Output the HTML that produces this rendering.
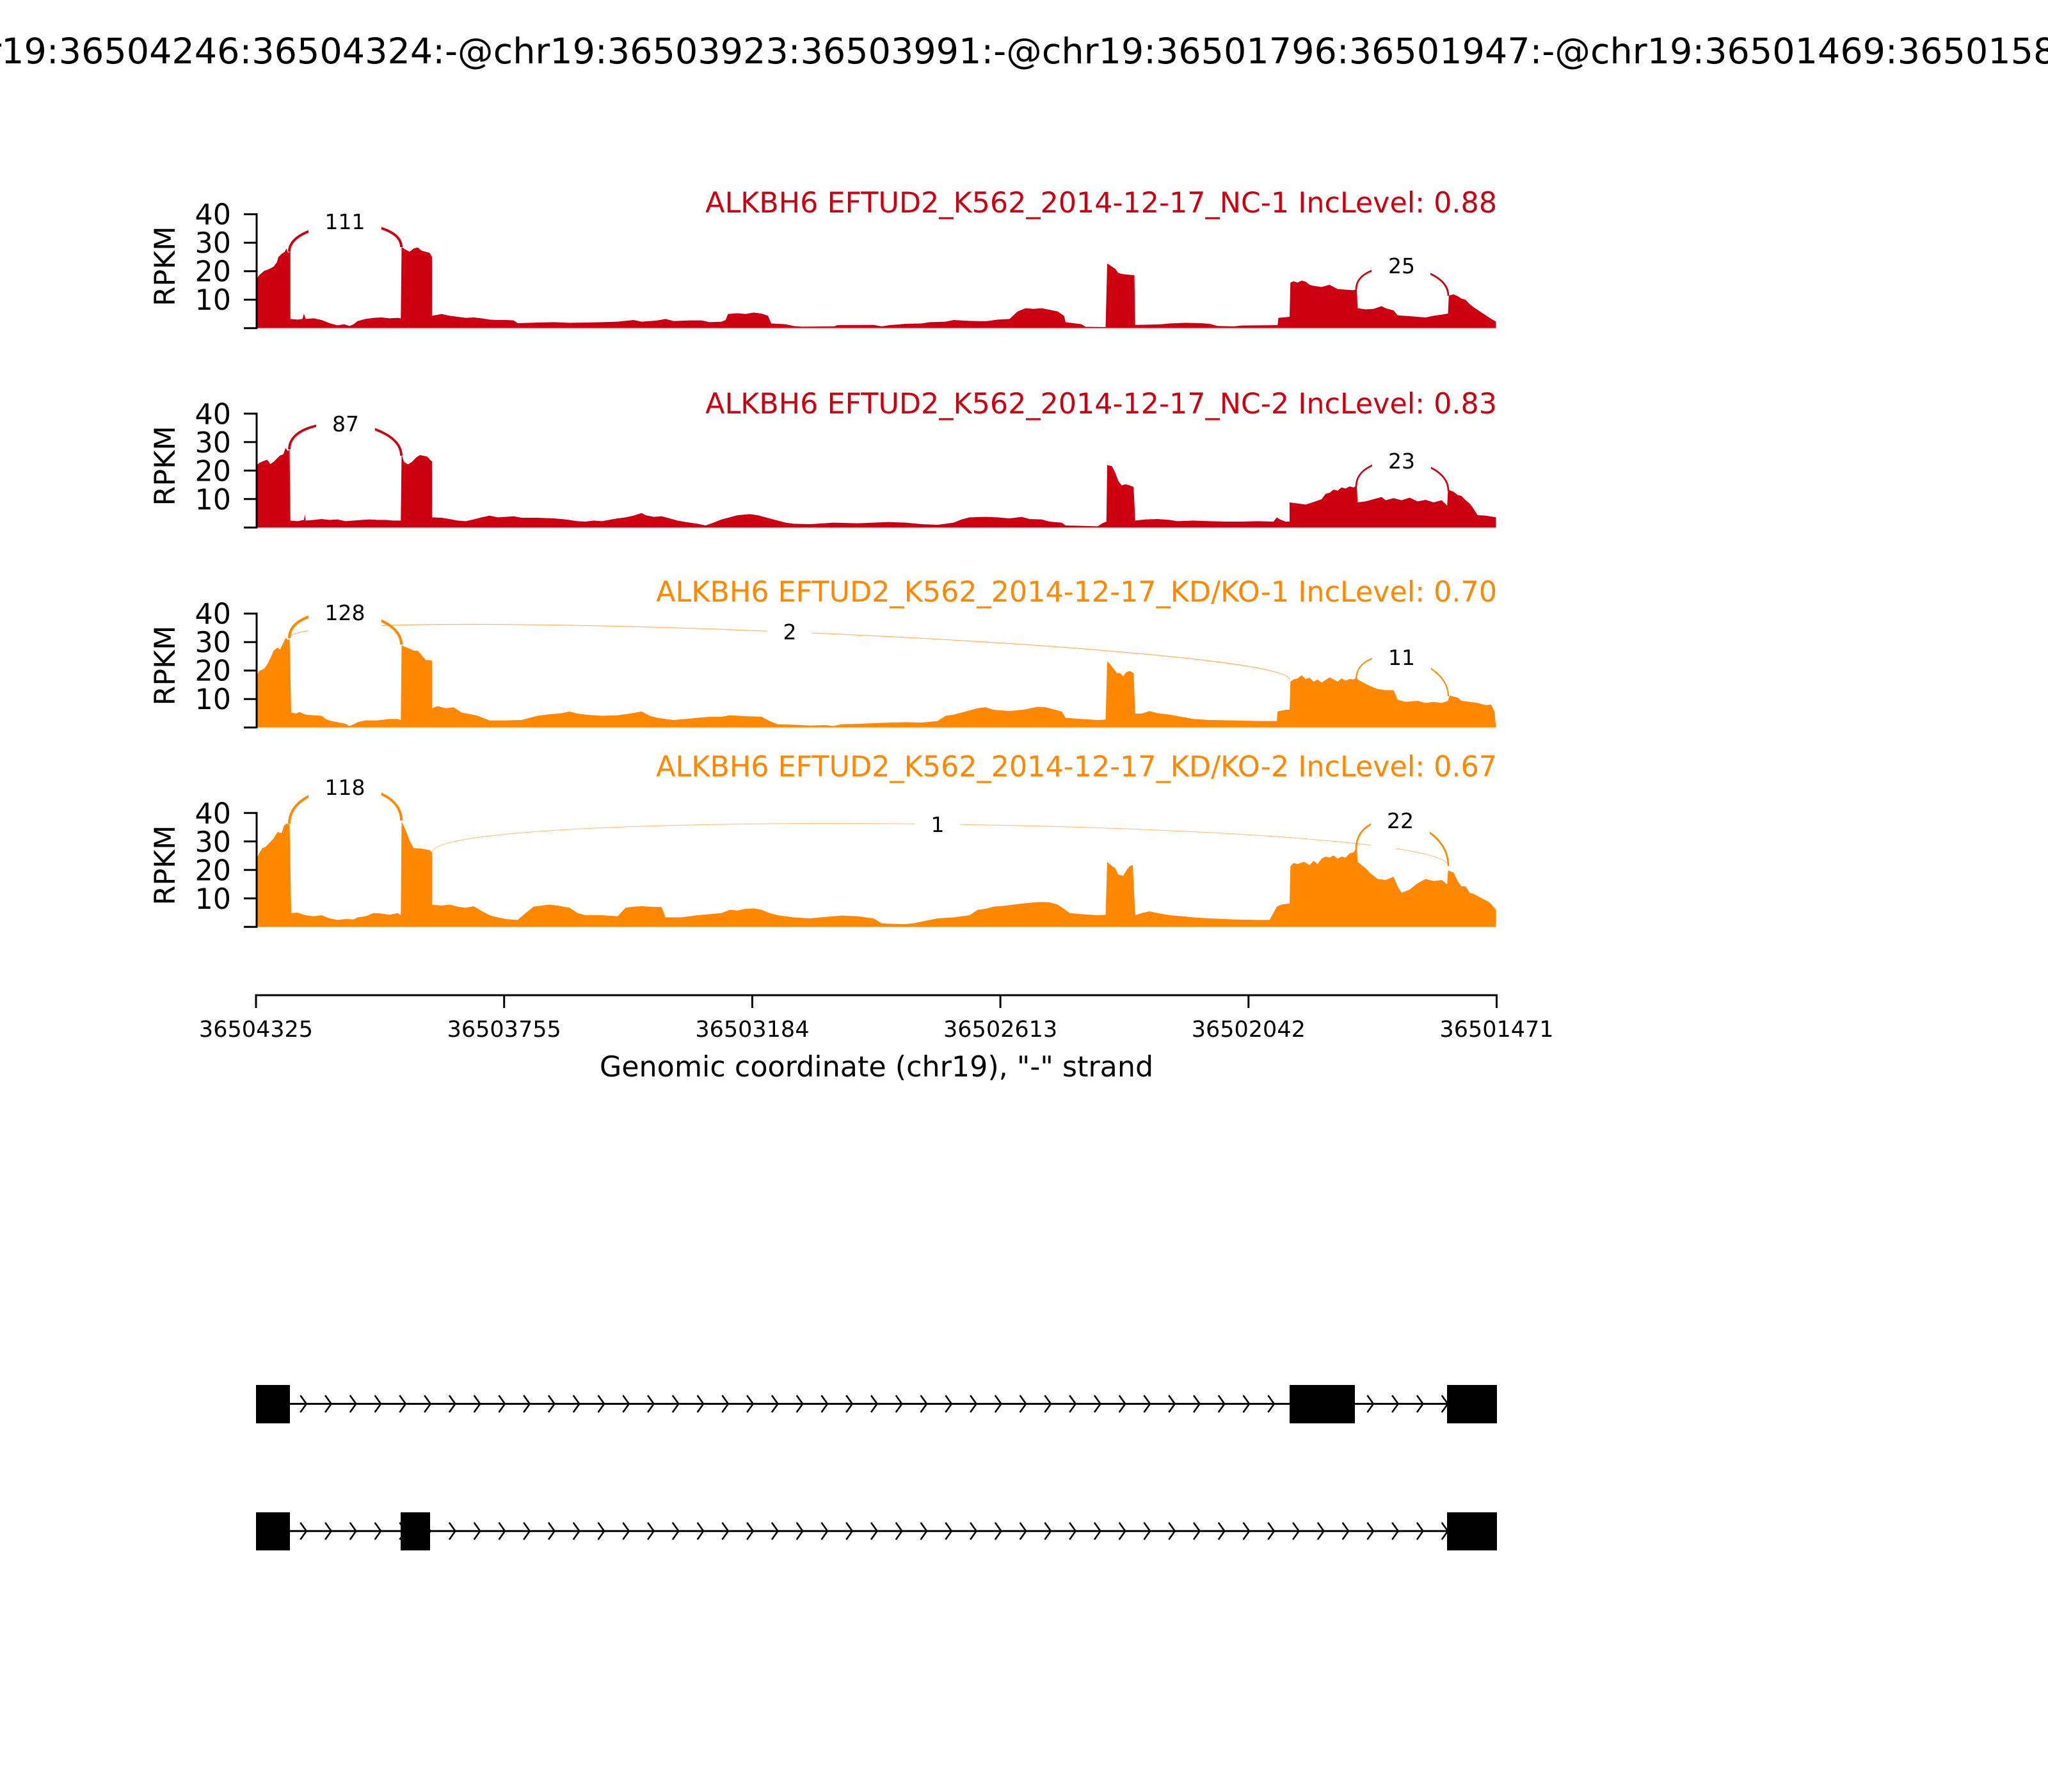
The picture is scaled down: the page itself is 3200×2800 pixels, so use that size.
<!DOCTYPE html>
<html>
<head>
<meta charset="utf-8">
<style>
html,body{margin:0;padding:0;background:#fff;}
body{width:3200px;height:2800px;overflow:hidden;}
svg{display:block;}
text{font-family:"DejaVu Sans","Liberation Sans",sans-serif;}
</style>
</head>
<body>
<svg width="3200" height="2800" viewBox="0 0 3200 2800" xmlns="http://www.w3.org/2000/svg">
<rect x="0" y="0" width="3200" height="2800" fill="#fff"/>

<!-- Main title -->
<text x="1600" y="99" font-size="55.6" text-anchor="middle" fill="#000">chr19:36504246:36504324:-@chr19:36503923:36503991:-@chr19:36501796:36501947:-@chr19:36501469:36501587:-</text>

<!-- ========== Panel 1 ========== -->
<path fill="#CC0011" transform="translate(390,280) scale(1.25,0.333333)" d="M8,698 L8,470 L12,450 L18,430 L22,425 L26,418 L30,410 L34,390 L36,365 L40,350 L44,340 L46,325 L48,345 L50,340 L51,340
L51,655 L60,658 L66,655 L68,630 L70,655 L80,652 L90,660 L100,675 L110,685 L118,680 L125,688 L130,680 L135,665 L145,655 L155,650 L165,648 L175,652 L185,650 L189,652
L190,318 L195,330 L200,340 L205,325 L210,320 L215,335 L220,340 L225,345 L228,365 L228,640
L240,632 L250,640 L260,645 L270,650 L280,648 L290,652 L300,658 L310,660 L320,660 L330,662 L335,675 L360,672 L380,670 L400,673 L420,672 L440,670 L460,668 L480,660 L490,668 L510,662 L520,655 L530,665 L550,662 L565,662 L575,670 L590,668 L595,660
L598,632 L610,628 L620,632 L630,625 L640,630 L648,640 L652,676
L670,680 L680,688 L690,691 L730,690 L735,684 L780,683 L790,690 L800,684 L820,678 L840,676 L850,670 L870,668 L880,660 L900,664 L920,666 L935,658 L950,655 L960,620 L970,605 L980,608 L990,605 L1000,612 L1010,620 L1018,640 L1020,670 L1040,680 L1045,692 L1070,693
L1072,395 L1076,405 L1082,420 L1086,440 L1092,445 L1100,448 L1106,450 L1107,683
L1120,682 L1140,680 L1150,676 L1170,673 L1190,675 L1200,678 L1210,688 L1230,690 L1240,686 L1285,684
L1286,650 L1300,645
L1301,485 L1305,478 L1310,485 L1315,475 L1320,480 L1325,495 L1330,500 L1340,505 L1350,495 L1360,515 L1370,518 L1380,520 L1384,515 L1385,605
L1395,610 L1405,608 L1415,595 L1420,605 L1430,615 L1435,638 L1450,642 L1470,648 L1480,640 L1490,635 L1498,630
L1499,545 L1505,540 L1510,548 L1515,560 L1520,565 L1525,585 L1530,600 L1540,625 L1550,650 L1558,668 L1558,698 Z"/>
<path fill="none" stroke="#CC0011" stroke-width="4" d="M452,393 C452,341 627,334 627,386"/>
<path fill="none" stroke="#CC0011" stroke-width="2.8" d="M2119,452 C2119,399 2263,409 2263,462"/>
<rect x="482" y="303" width="114" height="87" fill="#fff"/>
<text x="539" y="358" font-size="33" text-anchor="middle" fill="#000">111</text>
<rect x="2143" y="372" width="92" height="87" fill="#fff"/>
<text x="2190" y="427" font-size="33" text-anchor="middle" fill="#000">25</text>
<text x="2339" y="332" font-size="44.4" text-anchor="end" fill="#CC0011">ALKBH6 EFTUD2_K562_2014-12-17_NC-1 IncLevel: 0.88</text>
<g stroke="#000" stroke-width="3">
<line x1="401" y1="514" x2="401" y2="333.2"/>
<line x1="381" y1="512.7" x2="401" y2="512.7"/>
<line x1="381" y1="468.2" x2="401" y2="468.2"/>
<line x1="381" y1="423.7" x2="401" y2="423.7"/>
<line x1="381" y1="379.2" x2="401" y2="379.2"/>
<line x1="381" y1="334.7" x2="401" y2="334.7"/>
</g>
<g font-size="44.4" text-anchor="end" fill="#000">
<text x="361" y="484.2">10</text>
<text x="361" y="439.7">20</text>
<text x="361" y="395.2">30</text>
<text x="361" y="350.7">40</text>
</g>
<text transform="translate(273,416) rotate(-90)" font-size="44.4" text-anchor="middle" fill="#000">RPKM</text>

<!-- ========== Panel 2 ========== -->
<path fill="#CC0011" transform="translate(390,595) scale(1.25,0.333333)" d="M8,688 L8,400 L12,385 L18,375 L22,370 L26,390 L30,380 L34,365 L38,350 L42,345 L45,315 L48,330 L50,320
L51,655 L60,658 L68,652 L69,625 L70,655 L80,652 L90,648 L100,652 L110,650 L120,658 L130,655 L140,652 L150,650 L160,652 L170,652 L180,655 L189,655
L190,345 L193,380 L198,392 L203,380 L208,360 L213,348 L218,352 L222,355 L226,372 L228,378 L228,640
L240,642 L250,648 L260,655 L270,658 L280,650 L290,640 L300,632 L310,640 L320,638 L330,635 L340,642 L360,642 L380,645 L395,650 L410,658 L420,660 L430,655 L440,658 L460,645 L470,640 L480,632 L490,620 L495,630 L505,638 L515,635 L525,645 L535,655 L545,662 L560,670 L570,678 L580,665 L590,650 L600,640 L610,630 L625,625 L635,630 L645,640 L660,655 L670,665 L680,670 L700,672 L730,665 L760,668 L780,665 L800,662 L820,665 L840,672 L860,675 L870,670 L880,665 L890,650 L900,640 L920,638 L935,640 L950,645 L965,638 L975,648 L990,650 L1000,660 L1015,665 L1020,678 L1040,680 L1060,682 L1066,668 L1071,660
L1072,395 L1078,400 L1082,430 L1086,470 L1090,490 L1095,485 L1100,490 L1105,498 L1107,655
L1120,650 L1135,648 L1150,652 L1160,658 L1180,655 L1200,658 L1220,660 L1240,660 L1260,658 L1280,660 L1284,640 L1288,650 L1295,660 L1300,660
L1300,570 L1310,575 L1320,580 L1330,568 L1340,555 L1345,530 L1350,525 L1355,510 L1360,515 L1365,500 L1370,505 L1375,495 L1380,500 L1384,490 L1385,570
L1395,565 L1405,555 L1415,545 L1420,560 L1430,550 L1440,560 L1450,548 L1460,565 L1470,558 L1480,570 L1490,560 L1497,585
L1498,510 L1505,520 L1510,535 L1515,540 L1520,560 L1525,575 L1530,600 L1535,630 L1545,632 L1558,640 L1558,688 Z"/>
<path fill="none" stroke="#CC0011" stroke-width="3.8" d="M452,702 C452,642 627,652 627,712"/>
<path fill="none" stroke="#CC0011" stroke-width="2.7" d="M2119,760 C2119,702 2263,709 2263,767"/>
<rect x="494" y="619" width="92" height="87" fill="#fff"/>
<text x="540" y="674" font-size="33" text-anchor="middle" fill="#000">87</text>
<rect x="2144" y="677" width="92" height="87" fill="#fff"/>
<text x="2190" y="732" font-size="33" text-anchor="middle" fill="#000">23</text>
<text x="2339" y="646" font-size="44.4" text-anchor="end" fill="#CC0011">ALKBH6 EFTUD2_K562_2014-12-17_NC-2 IncLevel: 0.83</text>
<g stroke="#000" stroke-width="3">
<line x1="401" y1="825.6" x2="401" y2="644.8"/>
<line x1="381" y1="824.3" x2="401" y2="824.3"/>
<line x1="381" y1="779.8" x2="401" y2="779.8"/>
<line x1="381" y1="735.3" x2="401" y2="735.3"/>
<line x1="381" y1="690.8" x2="401" y2="690.8"/>
<line x1="381" y1="646.3" x2="401" y2="646.3"/>
</g>
<g font-size="44.4" text-anchor="end" fill="#000">
<text x="361" y="795.8">10</text>
<text x="361" y="751.3">20</text>
<text x="361" y="706.8">30</text>
<text x="361" y="662.3">40</text>
</g>
<text transform="translate(273,728) rotate(-90)" font-size="44.4" text-anchor="middle" fill="#000">RPKM</text>

<!-- ========== Panel 3 ========== -->
<path fill="#FF8800" transform="translate(390,905) scale(1.25,0.333333)" d="M8,695 L8,460 L12,430 L18,420 L22,400 L26,370 L30,335 L35,320 L38,330 L42,300 L45,275 L48,285 L50,280
L52,625 L58,630 L62,622 L70,635 L80,638 L90,640 L95,655 L102,665 L110,670 L120,678 L125,688 L130,680 L135,670 L145,662 L160,662 L175,655 L185,655 L189,660
L190,310 L195,318 L200,325 L205,335 L210,335 L215,355 L220,378 L225,380 L228,382 L228,605
L235,595 L245,605 L255,600 L265,625 L275,632 L285,640 L295,655 L300,662 L320,662 L340,660 L350,650 L360,640 L375,633 L390,628 L400,620 L410,630 L420,635 L440,640 L460,638 L475,630 L490,620 L500,640 L510,650 L520,655 L530,660 L545,655 L560,650 L575,645 L590,645 L600,638 L620,642 L640,645 L650,665 L660,680 L680,682 L700,686 L720,684 L730,688 L740,680 L760,678 L780,675 L800,672 L820,670 L840,672 L860,665 L870,640 L880,635 L890,625 L900,615 L910,605 L920,600 L930,612 L950,618 L970,610 L985,598 L995,600 L1005,610 L1015,620 L1020,650 L1040,655 L1060,660 L1070,658
L1072,385 L1076,400 L1080,420 L1084,440 L1088,440 L1092,455 L1096,435 L1100,430 L1105,440 L1107,630
L1115,630 L1125,618 L1135,628 L1150,635 L1165,645 L1180,655 L1200,660 L1230,662 L1260,665 L1284,665 L1285,620 L1295,612 L1300,612
L1301,480 L1305,470 L1310,465 L1315,450 L1320,468 L1325,462 L1330,480 L1335,470 L1340,485 L1345,472 L1350,460 L1355,470 L1360,480 L1365,465 L1370,475 L1375,468 L1380,470 L1384,460 L1385,470
L1390,480 L1395,490 L1400,500 L1410,515 L1420,520 L1430,520 L1435,565 L1445,575 L1460,570 L1470,580 L1480,575 L1490,580 L1498,570
L1500,545 L1505,550 L1510,555 L1515,570 L1525,575 L1535,580 L1545,590 L1552,588 L1556,620 L1558,695 Z"/>
<path fill="none" stroke="#FF8800" stroke-width="1.2" stroke-opacity="0.65" d="M452,997 C452,941 2015,1006 2015,1062"/>
<path fill="none" stroke="#FF8800" stroke-width="4.1" d="M452,997 C452,937 627,947 627,1007"/>
<path fill="none" stroke="#FF8800" stroke-width="2" d="M2119,1062 C2119,998 2263,1024 2263,1088"/>
<rect x="482" y="914" width="114" height="87" fill="#fff"/>
<text x="539" y="969" font-size="33" text-anchor="middle" fill="#000">128</text>
<rect x="1199" y="944" width="70" height="87" fill="#fff"/>
<text x="1234" y="999" font-size="33" text-anchor="middle" fill="#000">2</text>
<rect x="2144" y="984" width="92" height="87" fill="#fff"/>
<text x="2190" y="1039" font-size="33" text-anchor="middle" fill="#000">11</text>
<text x="2339" y="940" font-size="44.4" text-anchor="end" fill="#FF8800">ALKBH6 EFTUD2_K562_2014-12-17_KD/KO-1 IncLevel: 0.70</text>
<g stroke="#000" stroke-width="3">
<line x1="401" y1="1138" x2="401" y2="957.2"/>
<line x1="381" y1="1136.7" x2="401" y2="1136.7"/>
<line x1="381" y1="1092.2" x2="401" y2="1092.2"/>
<line x1="381" y1="1047.7" x2="401" y2="1047.7"/>
<line x1="381" y1="1003.2" x2="401" y2="1003.2"/>
<line x1="381" y1="958.7" x2="401" y2="958.7"/>
</g>
<g font-size="44.4" text-anchor="end" fill="#000">
<text x="361" y="1108.2">10</text>
<text x="361" y="1063.7">20</text>
<text x="361" y="1019.2">30</text>
<text x="361" y="974.7">40</text>
</g>
<text transform="translate(273,1040) rotate(-90)" font-size="44.4" text-anchor="middle" fill="#000">RPKM</text>

<!-- ========== Panel 4 ========== -->
<path fill="#FF8800" transform="translate(390,1200) scale(1.25,0.333333)" d="M8,745 L8,430 L12,400 L16,375 L20,370 L25,350 L30,330 L35,300 L40,305 L43,270 L46,260 L50,265
L52,680 L60,678 L70,690 L80,695 L90,690 L100,705 L110,712 L120,708 L130,710 L135,700 L145,695 L155,680 L165,682 L175,688 L185,680 L189,690
L190,250 L195,290 L200,340 L205,375 L215,378 L225,385 L228,395 L228,640
L240,645 L250,640 L260,650 L270,655 L280,648 L290,670 L300,690 L310,700 L320,708 L335,712 L345,680 L355,650 L365,645 L375,640 L385,645 L400,655 L410,680 L420,690 L440,690 L460,695 L470,655 L480,650 L490,648 L500,650 L515,652 L520,700 L540,700 L560,690 L575,685 L590,680 L600,665 L610,668 L620,660 L630,658 L640,665 L650,680 L660,690 L680,700 L700,705 L720,698 L740,692 L760,695 L780,705 L790,728 L800,730 L820,732 L830,728 L840,720 L860,705 L880,700 L900,690 L910,665 L920,660 L930,650 L945,645 L960,638 L975,632 L990,628 L1000,630 L1010,640 L1018,660 L1025,680 L1040,685 L1060,690 L1070,688
L1072,440 L1078,460 L1082,470 L1086,500 L1092,505 L1096,480 L1100,460 L1104,455 L1107,690
L1115,680 L1125,672 L1135,680 L1150,690 L1165,695 L1180,700 L1200,705 L1230,710 L1260,712 L1275,712 L1284,650 L1290,640 L1300,635
L1301,460 L1305,445 L1310,450 L1318,440 L1325,455 L1330,435 L1335,450 L1340,425 L1345,415 L1350,420 L1355,410 L1360,425 L1365,415 L1370,420 L1375,400 L1380,395 L1384,370 L1385,440
L1390,455 L1395,470 L1400,490 L1410,520 L1420,525 L1430,510 L1435,555 L1440,585 L1450,570 L1460,540 L1470,520 L1480,530 L1490,525 L1497,545 L1498,480 L1505,490 L1510,530 L1515,555 L1520,555 L1525,585 L1530,590 L1540,610 L1550,630 L1558,665 L1558,745 Z"/>
<path fill="none" stroke="#FF8800" stroke-width="1" stroke-opacity="0.6" d="M675,1332 C675,1259 2263,1280 2263,1353"/>
<path fill="none" stroke="#FF8800" stroke-width="4" d="M452,1287 C452,1215 627,1210 627,1282"/>
<path fill="none" stroke="#FF8800" stroke-width="2.7" d="M2119,1327 C2119,1251 2263,1277 2263,1353"/>
<rect x="482" y="1187" width="114" height="87" fill="#fff"/>
<text x="539" y="1242" font-size="33" text-anchor="middle" fill="#000">118</text>
<rect x="1430" y="1245" width="70" height="87" fill="#fff"/>
<text x="1465" y="1300" font-size="33" text-anchor="middle" fill="#000">1</text>
<rect x="2142" y="1239" width="92" height="87" fill="#fff"/>
<text x="2188" y="1294" font-size="33" text-anchor="middle" fill="#000">22</text>
<text x="2339" y="1213" font-size="44.4" text-anchor="end" fill="#FF8800">ALKBH6 EFTUD2_K562_2014-12-17_KD/KO-2 IncLevel: 0.67</text>
<g stroke="#000" stroke-width="3">
<line x1="401" y1="1449.6" x2="401" y2="1268.8"/>
<line x1="381" y1="1448.3" x2="401" y2="1448.3"/>
<line x1="381" y1="1403.8" x2="401" y2="1403.8"/>
<line x1="381" y1="1359.3" x2="401" y2="1359.3"/>
<line x1="381" y1="1314.8" x2="401" y2="1314.8"/>
<line x1="381" y1="1270.3" x2="401" y2="1270.3"/>
</g>
<g font-size="44.4" text-anchor="end" fill="#000">
<text x="361" y="1419.8">10</text>
<text x="361" y="1375.3">20</text>
<text x="361" y="1330.8">30</text>
<text x="361" y="1286.3">40</text>
</g>
<text transform="translate(273,1352) rotate(-90)" font-size="44.4" text-anchor="middle" fill="#000">RPKM</text>

<!-- ========== X axis ========== -->
<g stroke="#000" stroke-width="3">
<line x1="398.5" y1="1555" x2="2340" y2="1555"/>
<line x1="400" y1="1555" x2="400" y2="1575"/>
<line x1="787.7" y1="1555" x2="787.7" y2="1575"/>
<line x1="1175.4" y1="1555" x2="1175.4" y2="1575"/>
<line x1="1563.1" y1="1555" x2="1563.1" y2="1575"/>
<line x1="1950.8" y1="1555" x2="1950.8" y2="1575"/>
<line x1="2338.5" y1="1555" x2="2338.5" y2="1575"/>
</g>
<g font-size="35" text-anchor="middle" fill="#000">
<text x="400" y="1620">36504325</text>
<text x="787.7" y="1620">36503755</text>
<text x="1175.4" y="1620">36503184</text>
<text x="1563.1" y="1620">36502613</text>
<text x="1950.8" y="1620">36502042</text>
<text x="2338.5" y="1620">36501471</text>
</g>
<text x="1369.5" y="1682" font-size="44.4" text-anchor="middle" fill="#000">Genomic coordinate (chr19), &quot;-&quot; strand</text>

<!-- ========== Gene models ========== -->
<g stroke="#000" stroke-width="3" fill="none">
<line x1="453" y1="2193.5" x2="2262" y2="2193.5"/>
<line x1="453" y1="2392.3" x2="2262" y2="2392.3"/>
</g>
<g stroke="#000" stroke-width="2.6" fill="none" stroke-linejoin="miter">
<path d="M469.3,2180.2 l9.5,13.3 l-9.5,13.3
m38.77,-26.6 l9.5,13.3 l-9.5,13.3 m38.77,-26.6 l9.5,13.3 l-9.5,13.3 m38.77,-26.6 l9.5,13.3 l-9.5,13.3 m38.77,-26.6 l9.5,13.3 l-9.5,13.3 m38.77,-26.6 l9.5,13.3 l-9.5,13.3
m38.77,-26.6 l9.5,13.3 l-9.5,13.3 m38.77,-26.6 l9.5,13.3 l-9.5,13.3 m38.77,-26.6 l9.5,13.3 l-9.5,13.3 m38.77,-26.6 l9.5,13.3 l-9.5,13.3 m38.77,-26.6 l9.5,13.3 l-9.5,13.3
m38.77,-26.6 l9.5,13.3 l-9.5,13.3 m38.77,-26.6 l9.5,13.3 l-9.5,13.3 m38.77,-26.6 l9.5,13.3 l-9.5,13.3 m38.77,-26.6 l9.5,13.3 l-9.5,13.3 m38.77,-26.6 l9.5,13.3 l-9.5,13.3
m38.77,-26.6 l9.5,13.3 l-9.5,13.3 m38.77,-26.6 l9.5,13.3 l-9.5,13.3 m38.77,-26.6 l9.5,13.3 l-9.5,13.3 m38.77,-26.6 l9.5,13.3 l-9.5,13.3 m38.77,-26.6 l9.5,13.3 l-9.5,13.3
m38.77,-26.6 l9.5,13.3 l-9.5,13.3 m38.77,-26.6 l9.5,13.3 l-9.5,13.3 m38.77,-26.6 l9.5,13.3 l-9.5,13.3 m38.77,-26.6 l9.5,13.3 l-9.5,13.3 m38.77,-26.6 l9.5,13.3 l-9.5,13.3
m38.77,-26.6 l9.5,13.3 l-9.5,13.3 m38.77,-26.6 l9.5,13.3 l-9.5,13.3 m38.77,-26.6 l9.5,13.3 l-9.5,13.3 m38.77,-26.6 l9.5,13.3 l-9.5,13.3 m38.77,-26.6 l9.5,13.3 l-9.5,13.3
m38.77,-26.6 l9.5,13.3 l-9.5,13.3 m38.77,-26.6 l9.5,13.3 l-9.5,13.3 m38.77,-26.6 l9.5,13.3 l-9.5,13.3 m38.77,-26.6 l9.5,13.3 l-9.5,13.3 m38.77,-26.6 l9.5,13.3 l-9.5,13.3
m38.77,-26.6 l9.5,13.3 l-9.5,13.3 m38.77,-26.6 l9.5,13.3 l-9.5,13.3 m38.77,-26.6 l9.5,13.3 l-9.5,13.3 m38.77,-26.6 l9.5,13.3 l-9.5,13.3 m38.77,-26.6 l9.5,13.3 l-9.5,13.3
m38.77,-26.6 l9.5,13.3 l-9.5,13.3 m38.77,-26.6 l9.5,13.3 l-9.5,13.3 m38.77,-26.6 l9.5,13.3 l-9.5,13.3 m38.77,-26.6 l9.5,13.3 l-9.5,13.3 m38.77,-26.6 l9.5,13.3 l-9.5,13.3
m38.77,-26.6 l9.5,13.3 l-9.5,13.3"/>
<path d="M469.3,2379 l9.5,13.3 l-9.5,13.3
m38.77,-26.6 l9.5,13.3 l-9.5,13.3 m38.77,-26.6 l9.5,13.3 l-9.5,13.3 m38.77,-26.6 l9.5,13.3 l-9.5,13.3 m38.77,-26.6 l9.5,13.3 l-9.5,13.3 m38.77,-26.6 l9.5,13.3 l-9.5,13.3
m38.77,-26.6 l9.5,13.3 l-9.5,13.3 m38.77,-26.6 l9.5,13.3 l-9.5,13.3 m38.77,-26.6 l9.5,13.3 l-9.5,13.3 m38.77,-26.6 l9.5,13.3 l-9.5,13.3 m38.77,-26.6 l9.5,13.3 l-9.5,13.3
m38.77,-26.6 l9.5,13.3 l-9.5,13.3 m38.77,-26.6 l9.5,13.3 l-9.5,13.3 m38.77,-26.6 l9.5,13.3 l-9.5,13.3 m38.77,-26.6 l9.5,13.3 l-9.5,13.3 m38.77,-26.6 l9.5,13.3 l-9.5,13.3
m38.77,-26.6 l9.5,13.3 l-9.5,13.3 m38.77,-26.6 l9.5,13.3 l-9.5,13.3 m38.77,-26.6 l9.5,13.3 l-9.5,13.3 m38.77,-26.6 l9.5,13.3 l-9.5,13.3 m38.77,-26.6 l9.5,13.3 l-9.5,13.3
m38.77,-26.6 l9.5,13.3 l-9.5,13.3 m38.77,-26.6 l9.5,13.3 l-9.5,13.3 m38.77,-26.6 l9.5,13.3 l-9.5,13.3 m38.77,-26.6 l9.5,13.3 l-9.5,13.3 m38.77,-26.6 l9.5,13.3 l-9.5,13.3
m38.77,-26.6 l9.5,13.3 l-9.5,13.3 m38.77,-26.6 l9.5,13.3 l-9.5,13.3 m38.77,-26.6 l9.5,13.3 l-9.5,13.3 m38.77,-26.6 l9.5,13.3 l-9.5,13.3 m38.77,-26.6 l9.5,13.3 l-9.5,13.3
m38.77,-26.6 l9.5,13.3 l-9.5,13.3 m38.77,-26.6 l9.5,13.3 l-9.5,13.3 m38.77,-26.6 l9.5,13.3 l-9.5,13.3 m38.77,-26.6 l9.5,13.3 l-9.5,13.3 m38.77,-26.6 l9.5,13.3 l-9.5,13.3
m38.77,-26.6 l9.5,13.3 l-9.5,13.3 m38.77,-26.6 l9.5,13.3 l-9.5,13.3 m38.77,-26.6 l9.5,13.3 l-9.5,13.3 m38.77,-26.6 l9.5,13.3 l-9.5,13.3 m38.77,-26.6 l9.5,13.3 l-9.5,13.3
m38.77,-26.6 l9.5,13.3 l-9.5,13.3 m38.77,-26.6 l9.5,13.3 l-9.5,13.3 m38.77,-26.6 l9.5,13.3 l-9.5,13.3 m38.77,-26.6 l9.5,13.3 l-9.5,13.3 m38.77,-26.6 l9.5,13.3 l-9.5,13.3
m38.77,-26.6 l9.5,13.3 l-9.5,13.3"/>
</g>
<g fill="#000">
<rect x="400" y="2164" width="53" height="60"/>
<rect x="2015" y="2164" width="102" height="60"/>
<rect x="2261" y="2164" width="78" height="60"/>
<rect x="400" y="2363" width="53" height="59.5"/>
<rect x="626" y="2363" width="46" height="59.5"/>
<rect x="2261" y="2363" width="78" height="59.5"/>
</g>
</svg>
</body>
</html>
